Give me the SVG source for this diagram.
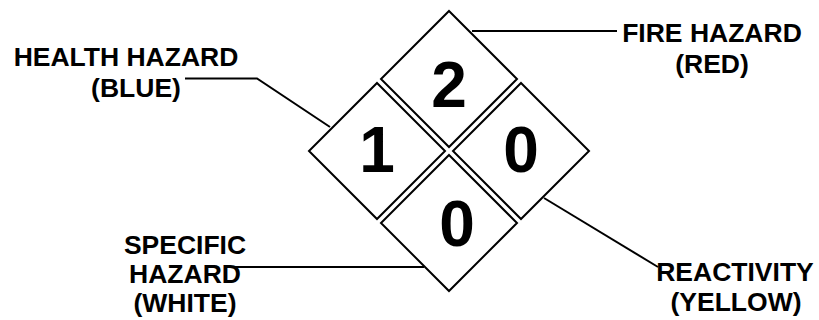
<svg xmlns="http://www.w3.org/2000/svg" width="819" height="320" viewBox="0 0 819 320">
<style>
.d{fill:#fff;stroke:#000;stroke-width:2}
.n{font-family:"Liberation Sans",Arial,sans-serif;font-weight:bold;font-size:64px;text-anchor:middle;fill:#000}
.l{font-family:"Liberation Sans",Arial,sans-serif;font-weight:bold;font-size:26.5px;text-anchor:middle;fill:#000}
.c{fill:none;stroke:#000;stroke-width:2}
</style>
<rect width="819" height="320" fill="#fff"/>
<g id="connectors">
<polyline class="c" points="185,78.5 257,78.5 330,127"/>
<line class="c" x1="472" y1="31" x2="617" y2="31"/>
<line class="c" x1="234" y1="267" x2="424" y2="267"/>
<line class="c" x1="544" y1="198" x2="658" y2="267"/>
</g>
<g id="fire">
<polygon class="d" points="449,11 517,79 449,147 381,79"/>
<text class="n" x="449" y="107">2</text>
</g>
<g id="health">
<polygon class="d" points="377,83 445,151 377,219 309,151"/>
<text class="n" x="377" y="172">1</text>
</g>
<g id="reactivity">
<polygon class="d" points="521,83 589,151 521,219 453,151"/>
<text class="n" x="521" y="172">0</text>
</g>
<g id="specific">
<polygon class="d" points="449,155 517,223 449,291 381,223"/>
<text class="n" x="457" y="246">0</text>
</g>
<g id="label-health">
<text class="l" x="126" y="66">HEALTH HAZARD</text>
<text class="l" x="136" y="97">(BLUE)</text>
</g>
<g id="label-fire">
<text class="l" x="712" y="42">FIRE HAZARD</text>
<text class="l" x="712" y="73">(RED)</text>
</g>
<g id="label-specific">
<text class="l" x="185" y="254">SPECIFIC</text>
<text class="l" x="185" y="283">HAZARD</text>
<text class="l" x="185" y="312">(WHITE)</text>
</g>
<g id="label-reactivity">
<text class="l" x="735" y="281">REACTIVITY</text>
<text class="l" x="736" y="311">(YELLOW)</text>
</g>
</svg>
